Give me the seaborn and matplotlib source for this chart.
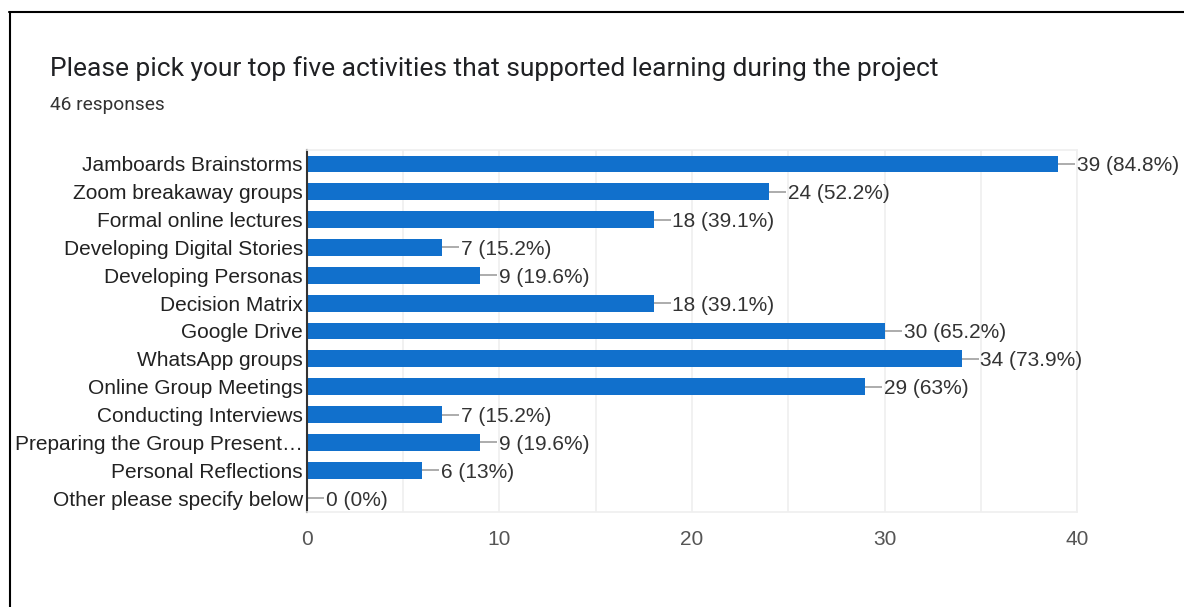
import matplotlib
matplotlib.use("Agg")
import matplotlib.pyplot as plt
import seaborn as sns
import pandas as pd
from matplotlib.lines import Line2D

title = "Please pick your top five activities that supported learning during the project"
subtitle = "46 responses"
total_responses = 46
categories = [
    "Jamboards Brainstorms",
    "Zoom breakaway groups",
    "Formal online lectures",
    "Developing Digital Stories",
    "Developing Personas",
    "Decision Matrix",
    "Google Drive",
    "WhatsApp groups",
    "Online Group Meetings",
    "Conducting Interviews",
    "Preparing the Group Present\u2026",
    "Personal Reflections",
    "Other please specify below",
]
counts = [39, 24, 18, 7, 9, 18, 30, 34, 29, 7, 9, 6, 0]
x_ticks = [0, 10, 20, 30, 40]

sns.set_theme(style="white")
plt.rcParams['font.family'] = ['Liberation Sans', 'DejaVu Sans']

W, H = 1184, 607
fig = plt.figure(figsize=(W / 100, H / 100), dpi=100)
fig.patch.set_facecolor("white")
ax_left, ax_right = 307, 1077
ax = fig.add_axes([ax_left / W, 1 - 512 / H, (ax_right - ax_left) / W, (512 - 150) / H])

df = pd.DataFrame({"activity": categories, "count": counts})
sns.barplot(data=df, x="count", y="activity", orient="h", color="#1170cc",
            saturation=1, width=0.6, ax=ax, linewidth=0)

xmax = 40
ax.set_xlim(0, xmax)
ax.set_ylim(len(categories) - 0.5, -0.5)
ax.set_xticks(x_ticks)
ax.set_xticks(range(0, 41, 5), minor=True)
ax.grid(axis="x", which="both", color="#efefef", lw=1.2)
ax.set_axisbelow(True)
ax.set_xlabel("")
ax.set_ylabel("")
ax.tick_params(axis="both", which="both", length=0)
ax.tick_params(axis="y", pad=3, labelsize=15, labelcolor="#222222")
ax.tick_params(axis="x", pad=13, labelsize=15, labelcolor="#555555")

for side in ["top", "bottom", "right"]:
    ax.spines[side].set_color("#efefef")
    ax.spines[side].set_linewidth(1.2)
ax.spines["left"].set_color("#333333")
ax.spines["left"].set_linewidth(1.5)

# leader lines: 17 px long, expressed in data units
leader = 17 * xmax / (ax_right - ax_left)
ypos = list(range(len(counts)))
ax.hlines(ypos, [c for c in counts], [c + leader for c in counts],
          color="#9e9e9e", lw=1.2, clip_on=False)

for i, v in enumerate(counts):
    pct = round(v / total_responses * 100, 1)
    pct_s = f"{pct:.1f}".rstrip("0").rstrip(".")
    ax.annotate(f"{v} ({pct_s}%)", xy=(v, i), xytext=(19, 0),
                textcoords="offset pixels", ha="left", va="center_baseline",
                fontsize=15, color="#333333", annotation_clip=False)

fig.text(50 / W, 1 - 76 / H, title, fontsize=19, family=["Roboto", "DejaVu Sans"],
         color="#202124", va="baseline", ha="left")
fig.text(50 / W, 1 - 110 / H, subtitle, fontsize=13.8, family=["Roboto", "DejaVu Sans"],
         color="#333333", va="baseline", ha="left")

fig.add_artist(Line2D([9 / W, 1], [1 - 11.5 / H] * 2, color="black", lw=1.5,
                      transform=fig.transFigure))
fig.add_artist(Line2D([9.5 / W] * 2, [1 - 11.5 / H, 0], color="black", lw=1.5,
                      transform=fig.transFigure))

fig.savefig("out.png", dpi=100, facecolor="white")
